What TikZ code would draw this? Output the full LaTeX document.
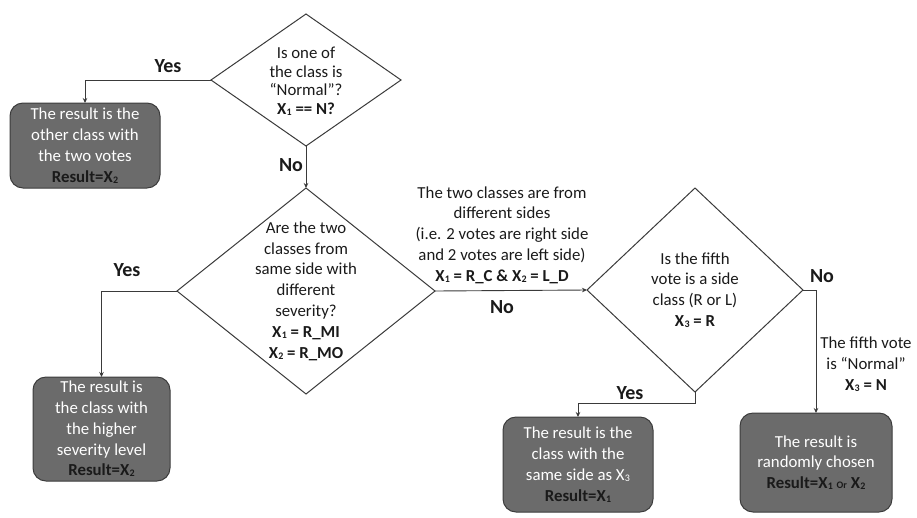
\documentclass[tikz,border=0pt]{standalone}
\usepackage{fontspec}
\setmainfont{Carlito}
\usetikzlibrary{shapes.geometric,arrows.meta}
\definecolor{linec}{HTML}{3A3A3A}
\definecolor{boxfill}{HTML}{6B6B6B}
\definecolor{boxline}{HTML}{3C3C3C}
\definecolor{inkc}{HTML}{1A1A1A}
% small index digit sitting just below the baseline
\newcommand{\ssb}[1]{\kern0.3pt\raisebox{-1pt}{\fontsize{10}{10}\selectfont #1}}
\tikzset{
  decision/.style={diamond, draw=linec, line width=1pt, inner sep=0pt, outer sep=0pt},
  qtext/.style={align=center, text=inkc, font=\fontsize{16.8}{20.8}\selectfont},
  outbox/.style={rectangle, rounded corners=13pt, draw=boxline, line width=1pt,
    fill=boxfill, inner sep=0pt, outer sep=0pt, align=center, text=white,
    font=\fontsize{16.8}{20.8}\selectfont},
  answer/.style={font=\fontsize{20}{24}\bfseries\selectfont, text=inkc, inner sep=0pt},
  arr/.style={draw=linec, line width=0.9pt, -{Stealth[length=5pt,width=4.5pt]}},
}
\begin{document}
\begin{tikzpicture}[x=1pt, y=-1pt]
\useasboundingbox (0,0) rectangle (917,517);

% decisions
\node[decision, minimum width=190pt, minimum height=132pt] (d1) at (306,80) {};
\node[qtext, font=\fontsize{16.8}{18.5}\selectfont] (d1t) at (306,81)
  {Is one of\\ the class is\\ “Normal”?\\ \textbf{X\ssb{1} == N?}};

\node[decision, minimum width=258pt, minimum height=206pt] (d2) at (306,291) {};
\node[qtext] (d2t) at (306,291)
  {Are the two\\ classes from\\ same side with\\ different\\ severity?\\
   \textbf{X\ssb{1} = R\_MI}\\ \textbf{X\ssb{2} = R\_MO}};

\node[decision, minimum width=216pt, minimum height=204pt] (d3) at (695,290) {};
\node[qtext] (d3t) at (695,290)
  {Is the fifth\\ vote is a side\\ class (R or L)\\ \textbf{X\ssb{3} = R}};

% outcomes
\node[outbox, minimum width=150pt, minimum height=85pt] (b1) at (85,145.5)
  {The result is the\\ other class with\\ the two votes\\ {\bfseries\color{inkc}Result=X\ssb{2}}};
\node[outbox, minimum width=137pt, minimum height=104pt] (b2) at (101.5,429)
  {The result is\\ the class with\\ the higher\\ severity level\\ {\bfseries\color{inkc}Result=X\ssb{2}}};
\node[outbox, minimum width=150pt, minimum height=95pt] (b3) at (578,464.5)
  {The result is the\\ class with the\\ same side as X\ssb{3}\\ {\bfseries\color{inkc}Result=X\ssb{1}}};
\node[outbox, minimum width=152pt, minimum height=99pt] (b4) at (816,462.5)
  {The result is\\ randomly chosen\\ {\bfseries\color{inkc}Result=X\ssb{1} {\fontsize{10}{10}\selectfont Or} X\ssb{2}}};

% connectors
\draw[arr] (d1.west) -| (b1.north);
\draw[arr] (d1.south) -- (d2.north);
\draw[arr] (d2.west) -| (b2.north);
\draw[arr] (d2.east) -- (d3.west);
\coordinate (d3s) at ([yshift=-11pt]d3.south);
\draw[arr] (d3.south) -- (d3s) -| (b3.north);
\coordinate (d3e) at ([xshift=13pt]d3.east);
\draw[arr] (d3.east) -- (d3e) -- (d3e |- b4.north);

% branch labels
\node[answer] (y1) at (168,66) {Yes};
\node[answer] (n1) at (291,165) {No};
\node[answer] (y2) at (127,270) {Yes};
\node[answer] (n2) at (502,307) {No};
\node[answer] (n3) at (822,276) {No};
\node[answer] (y3) at (630,393) {Yes};

\node[qtext] (mid) at (502,235)
  {The two classes are from\\ different sides\\ (i.e. 2 votes are right side\\
   and 2 votes are left side)\\ \textbf{X\ssb{1} = R\_C \& X\ssb{2} = L\_D}};
\node[qtext] (fifth) at (866,364)
  {The fifth vote\\ is “Normal”\\ \textbf{X\ssb{3} = N}};
\end{tikzpicture}
\end{document}
